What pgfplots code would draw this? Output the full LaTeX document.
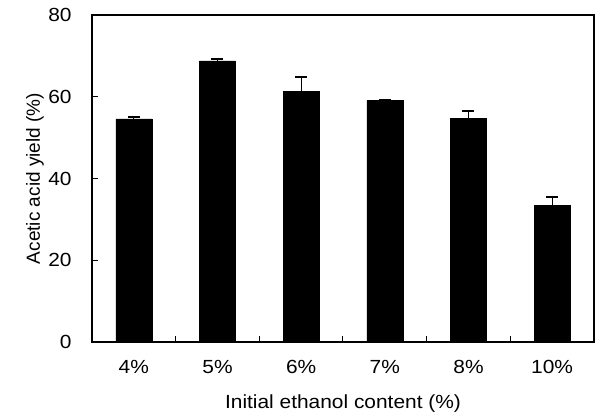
\documentclass[border=0pt]{standalone}
\usepackage{fontspec}
\setmainfont{Liberation Sans}
\usepackage{pgfplots}
\pgfplotsset{compat=1.18}
\begin{document}
\fontsize{19}{22}\selectfont
\begin{tikzpicture}
\begin{axis}[
  at={(0,0)}, anchor=south west,
  scale only axis, width=502pt, height=327pt,
  ymin=0, ymax=80, xmin=-0.5, xmax=5.5,
  ytick={0,20,40,60,80},
  xtick={0,1,2,3,4,5},
  xticklabels={4\%,5\%,6\%,7\%,8\%,10\%},
  minor xtick={0.5,1.5,2.5,3.5,4.5},
  major x tick style={draw=none},
  tick align=inside, xtick pos=bottom, ytick pos=left,
  major tick length=6pt, minor tick length=6pt,
  axis line style={line width=1.2pt},
  tick style={line width=1pt, black},
  every tick label/.append style={font=\fontsize{19}{22}\selectfont, xscale=1.1},
  /pgf/number format/assume math mode=true,
  yticklabel style={xshift=-12pt},
  xticklabel style={yshift=-12pt},
  xlabel={Initial ethanol content (\%)},
  ylabel={Acetic acid yield (\%)},
  label style={font=\fontsize{19}{22}\selectfont},
  xlabel style={yshift=-8pt, xscale=1.1},
  ylabel style={at={(axis description cs:-0.1135,0.5)}, anchor=center},
]
\addplot[ybar, bar width=36pt, fill=black, draw=black,
  error bars/.cd, y dir=plus, y explicit,
  error bar style={line width=1pt, black},
  error mark options={rotate=90, mark size=6pt, line width=1.8pt, black}]
  coordinates {
  (0,54.6) +- (0,0.4)
  (1,68.8) +- (0,0.4)
  (2,61.3) +- (0,3.6)
  (3,59.1) +- (0,0.2)
  (4,54.7) +- (0,1.8)
  (5,33.5) +- (0,1.9)
  };
\end{axis}
\pgfresetboundingbox
\path (-92pt,-78pt) rectangle (510pt,342pt);
\end{tikzpicture}
\end{document}
